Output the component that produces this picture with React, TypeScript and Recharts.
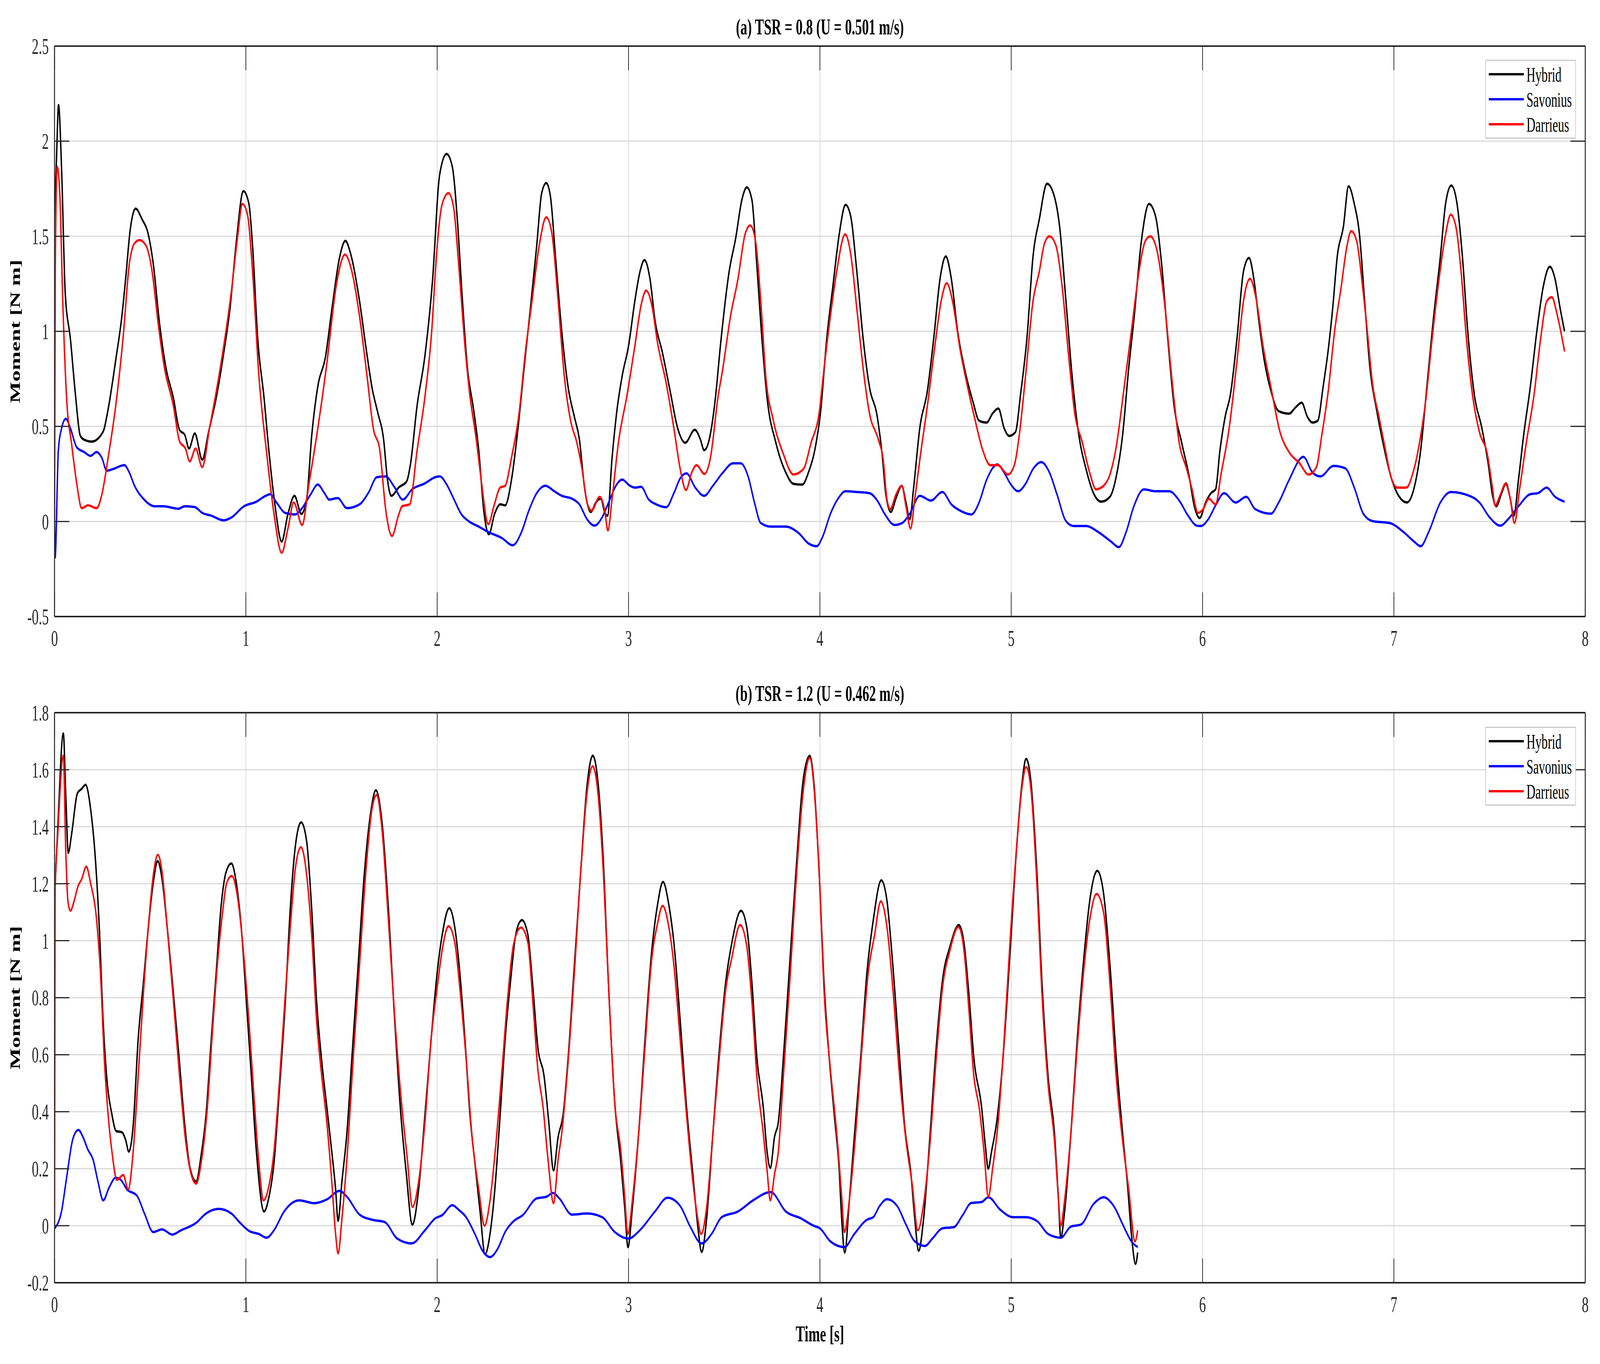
import { CartesianGrid, Legend, Line, LineChart, XAxis, YAxis } from "recharts";

const SERIF = '"Liberation Serif", "Times New Roman", serif';
const INK = "#262626";
const TICK_LEN = 62;
const PAGE_W = 6719;
const PAGE_H = 3491;

// axis ticks
const timeTicks = [0, 1, 2, 3, 4, 5, 6, 7, 8];
const momentTicksA = [-0.5, 0, 0.5, 1, 1.5, 2, 2.5];
const momentTicksB = [-0.2, 0, 0.2, 0.4, 0.6, 0.8, 1, 1.2, 1.4, 1.6, 1.8];

const seriesNames = ["Hybrid", "Savonius", "Darrieus"];
const seriesColors = ["#000000", "#0000ff", "#ff0000"];

// (a) TSR = 0.8 : [time s, moment N m]
const hybridA: [number, number][] = [
  [0, 1.6], [0.01, 1.9], [0.021, 2.19], [0.037, 1.85], [0.056, 1.2], [0.083, 0.96], [0.109, 0.67], [0.135, 0.45],
  [0.155, 0.43], [0.194, 0.42], [0.253, 0.47], [0.28, 0.59], [0.32, 0.85], [0.352, 1.08], [0.372, 1.28], [0.395, 1.53],
  [0.424, 1.645], [0.457, 1.59], [0.49, 1.51], [0.516, 1.355], [0.549, 1.04], [0.582, 0.81], [0.621, 0.65], [0.654, 0.48],
  [0.68, 0.457], [0.703, 0.384], [0.733, 0.463], [0.772, 0.325], [0.805, 0.47], [0.845, 0.65], [0.884, 0.885], [0.917, 1.12],
  [0.95, 1.47], [0.987, 1.737], [1.016, 1.67], [1.035, 1.45], [1.062, 0.96], [1.095, 0.65], [1.12, 0.375], [1.153, 0.08],
  [1.187, -0.106], [1.22, 0.04], [1.254, 0.135], [1.29, 0.04], [1.318, 0.12], [1.344, 0.45], [1.376, 0.71], [1.416, 0.865],
  [1.45, 1.12], [1.49, 1.39], [1.52, 1.476], [1.547, 1.41], [1.594, 1.16], [1.627, 0.92], [1.66, 0.7], [1.69, 0.57],
  [1.72, 0.43], [1.74, 0.22], [1.76, 0.135], [1.8, 0.18], [1.84, 0.21], [1.86, 0.3], [1.895, 0.61], [1.935, 0.865],
  [1.975, 1.26], [2.013, 1.825], [2.049, 1.933], [2.079, 1.865], [2.105, 1.59], [2.132, 1.16], [2.158, 0.806], [2.19, 0.59],
  [2.217, 0.375], [2.243, 0.06], [2.27, -0.067], [2.3, 0.04], [2.33, 0.09], [2.355, 0.085], [2.388, 0.218], [2.42, 0.47],
  [2.454, 0.806], [2.487, 1.12], [2.52, 1.45], [2.546, 1.727], [2.57, 1.78], [2.592, 1.708], [2.618, 1.394], [2.651, 1.0],
  [2.684, 0.708], [2.717, 0.55], [2.743, 0.433], [2.77, 0.178], [2.803, 0.05], [2.829, 0.1], [2.855, 0.12], [2.875, 0.05],
  [2.89, 0.03], [2.914, 0.335], [2.94, 0.59], [2.967, 0.767], [3.0, 0.923], [3.033, 1.16], [3.06, 1.315], [3.083, 1.375],
  [3.112, 1.276], [3.138, 1.06], [3.178, 0.884], [3.217, 0.688], [3.257, 0.49], [3.296, 0.414], [3.346, 0.482], [3.375, 0.433],
  [3.395, 0.375], [3.42, 0.424], [3.454, 0.65], [3.48, 0.923], [3.526, 1.316], [3.56, 1.49], [3.592, 1.69], [3.618, 1.757],
  [3.645, 1.69], [3.67, 1.355], [3.697, 0.963], [3.724, 0.65], [3.77, 0.414], [3.822, 0.257], [3.862, 0.198], [3.908, 0.194],
  [3.94, 0.257], [3.978, 0.4], [4.003, 0.57], [4.036, 0.963], [4.068, 1.237], [4.101, 1.51], [4.134, 1.665], [4.16, 1.61],
  [4.193, 1.316], [4.226, 0.963], [4.259, 0.708], [4.3, 0.55], [4.325, 0.355], [4.345, 0.14], [4.371, 0.05], [4.397, 0.12],
  [4.428, 0.188], [4.45, 0.1], [4.47, 0.012], [4.49, 0.178], [4.522, 0.49], [4.562, 0.688], [4.595, 0.963], [4.628, 1.276],
  [4.658, 1.394], [4.687, 1.276], [4.72, 1.0], [4.76, 0.786], [4.8, 0.63], [4.832, 0.53], [4.871, 0.52], [4.904, 0.57],
  [4.933, 0.594], [4.963, 0.49], [4.99, 0.45], [5.022, 0.47], [5.049, 0.67], [5.082, 0.963], [5.114, 1.394], [5.147, 1.59],
  [5.187, 1.776], [5.22, 1.727], [5.253, 1.55], [5.286, 1.16], [5.318, 0.767], [5.351, 0.47], [5.391, 0.276], [5.43, 0.149],
  [5.47, 0.104], [5.516, 0.13], [5.549, 0.237], [5.582, 0.453], [5.614, 0.806], [5.641, 1.06], [5.68, 1.473], [5.72, 1.67],
  [5.753, 1.61], [5.786, 1.355], [5.818, 0.963], [5.851, 0.61], [5.891, 0.414], [5.93, 0.237], [5.957, 0.08], [5.985, 0.018],
  [6.016, 0.1], [6.044, 0.149], [6.068, 0.169], [6.091, 0.375], [6.118, 0.55], [6.146, 0.67], [6.18, 0.963], [6.214, 1.316],
  [6.243, 1.386], [6.268, 1.276], [6.296, 1.04], [6.323, 0.845], [6.357, 0.688], [6.398, 0.58], [6.452, 0.567], [6.486, 0.6],
  [6.518, 0.625], [6.548, 0.55], [6.575, 0.52], [6.602, 0.53], [6.63, 0.708], [6.657, 0.904], [6.68, 1.12], [6.704, 1.394],
  [6.736, 1.55], [6.763, 1.763], [6.793, 1.67], [6.82, 1.51], [6.847, 1.16], [6.875, 0.806], [6.909, 0.59], [6.943, 0.414],
  [6.984, 0.237], [7.025, 0.135], [7.068, 0.1], [7.106, 0.178], [7.14, 0.375], [7.174, 0.727], [7.208, 1.08], [7.243, 1.394],
  [7.27, 1.67], [7.3, 1.767], [7.327, 1.69], [7.358, 1.394], [7.386, 1.0], [7.42, 0.67], [7.46, 0.49], [7.494, 0.296],
  [7.515, 0.14], [7.535, 0.08], [7.563, 0.149], [7.586, 0.2], [7.608, 0.12], [7.627, 0.031], [7.651, 0.218], [7.678, 0.453],
  [7.713, 0.708], [7.747, 1.0], [7.781, 1.237], [7.815, 1.34], [7.842, 1.276], [7.869, 1.12], [7.892, 1.0],
];

const savoniusA: [number, number][] = [
  [0, 0], [0.003, -0.19], [0.02, 0.375], [0.037, 0.49], [0.059, 0.54], [0.083, 0.49], [0.116, 0.39], [0.155, 0.365],
  [0.188, 0.345], [0.22, 0.365], [0.247, 0.335], [0.273, 0.267], [0.306, 0.276], [0.365, 0.296], [0.391, 0.257], [0.418, 0.188],
  [0.464, 0.12], [0.523, 0.08], [0.569, 0.08], [0.648, 0.067], [0.68, 0.08], [0.733, 0.076], [0.772, 0.045], [0.818, 0.031],
  [0.884, 0.006], [0.923, 0.02], [0.99, 0.08], [1.055, 0.104], [1.095, 0.13], [1.127, 0.143], [1.16, 0.1], [1.206, 0.045],
  [1.258, 0.037], [1.29, 0.065], [1.337, 0.14], [1.376, 0.194], [1.41, 0.15], [1.436, 0.115], [1.48, 0.123], [1.528, 0.07],
  [1.594, 0.09], [1.64, 0.15], [1.685, 0.233], [1.73, 0.237], [1.777, 0.18], [1.82, 0.115], [1.87, 0.17], [1.935, 0.2],
  [1.99, 0.233], [2.013, 0.237], [2.053, 0.188], [2.086, 0.12], [2.125, 0.04], [2.164, 0.002], [2.217, -0.027], [2.27, -0.057],
  [2.336, -0.086], [2.395, -0.125], [2.44, -0.057], [2.48, 0.06], [2.52, 0.149], [2.566, 0.188], [2.612, 0.159], [2.651, 0.135],
  [2.704, 0.12], [2.743, 0.09], [2.783, 0.012], [2.822, -0.022], [2.862, 0.022], [2.9, 0.11], [2.934, 0.188], [2.967, 0.22],
  [3.007, 0.188], [3.033, 0.178], [3.066, 0.182], [3.105, 0.116], [3.145, 0.09], [3.197, 0.075], [3.237, 0.149], [3.27, 0.227],
  [3.303, 0.253], [3.349, 0.178], [3.395, 0.135], [3.441, 0.188], [3.493, 0.257], [3.546, 0.306], [3.586, 0.306], [3.625, 0.237],
  [3.658, 0.1], [3.691, -0.008], [3.743, -0.027], [3.822, -0.027], [3.888, -0.06], [3.941, -0.116], [3.983, -0.13], [4.016, -0.076],
  [4.055, 0.04], [4.095, 0.12], [4.134, 0.159], [4.193, 0.155], [4.259, 0.149], [4.3, 0.11], [4.338, 0.041], [4.39, -0.018],
  [4.43, -0.008], [4.47, 0.041], [4.522, 0.135], [4.58, 0.11], [4.64, 0.155], [4.687, 0.09], [4.733, 0.057], [4.792, 0.037],
  [4.832, 0.1], [4.871, 0.218], [4.928, 0.3], [4.963, 0.257], [4.996, 0.198], [5.036, 0.159], [5.075, 0.198], [5.114, 0.276],
  [5.157, 0.312], [5.2, 0.257], [5.24, 0.14], [5.286, 0.002], [5.326, -0.024], [5.391, -0.024], [5.457, -0.057], [5.522, -0.106],
  [5.562, -0.135], [5.6, -0.057], [5.641, 0.08], [5.693, 0.169], [5.753, 0.159], [5.826, 0.159], [5.878, 0.11], [5.924, 0.031],
  [5.97, -0.022], [5.99, -0.024], [6.03, 0.012], [6.071, 0.09], [6.112, 0.149], [6.173, 0.1], [6.228, 0.13], [6.275, 0.065],
  [6.357, 0.041], [6.398, 0.1], [6.452, 0.218], [6.527, 0.34], [6.575, 0.257], [6.616, 0.237], [6.684, 0.292], [6.745, 0.28],
  [6.793, 0.178], [6.84, 0.041], [6.888, 0.002], [6.977, -0.008], [7.052, -0.057], [7.106, -0.106], [7.14, -0.13], [7.181, -0.057],
  [7.243, 0.1], [7.297, 0.155], [7.406, 0.13], [7.447, 0.1], [7.5, 0.022], [7.556, -0.022], [7.597, 0.012], [7.651, 0.08],
  [7.712, 0.143], [7.753, 0.149], [7.798, 0.178], [7.842, 0.13], [7.892, 0.104],
];

const darrieusA: [number, number][] = [
  [0, 0], [0.004, 1.35], [0.014, 1.865], [0.028, 1.71], [0.043, 1.16], [0.063, 0.65], [0.089, 0.41], [0.116, 0.2],
  [0.142, 0.07], [0.175, 0.085], [0.22, 0.07], [0.247, 0.14], [0.28, 0.335], [0.32, 0.61], [0.358, 0.963], [0.391, 1.355],
  [0.418, 1.463], [0.444, 1.48], [0.477, 1.453], [0.51, 1.315], [0.542, 1.04], [0.575, 0.806], [0.621, 0.61], [0.654, 0.42],
  [0.684, 0.384], [0.707, 0.316], [0.737, 0.384], [0.772, 0.286], [0.81, 0.49], [0.85, 0.71], [0.884, 0.92], [0.923, 1.2],
  [0.956, 1.49], [0.982, 1.67], [1.009, 1.61], [1.035, 1.315], [1.068, 0.767], [1.107, 0.375], [1.147, 0.04], [1.187, -0.165],
  [1.22, -0.037], [1.25, 0.1], [1.294, -0.018], [1.33, 0.2], [1.376, 0.49], [1.42, 0.806], [1.475, 1.257], [1.518, 1.404],
  [1.554, 1.315], [1.594, 1.08], [1.633, 0.767], [1.666, 0.49], [1.7, 0.375], [1.731, 0.06], [1.764, -0.076], [1.797, 0.03],
  [1.817, 0.08], [1.856, 0.09], [1.895, 0.375], [1.935, 0.65], [1.974, 1.04], [1.993, 1.355], [2.026, 1.67], [2.059, 1.727],
  [2.086, 1.65], [2.112, 1.355], [2.145, 0.923], [2.17, 0.67], [2.204, 0.433], [2.23, 0.218], [2.267, -0.014], [2.296, 0.08],
  [2.329, 0.178], [2.355, 0.188], [2.388, 0.335], [2.428, 0.57], [2.46, 0.884], [2.493, 1.14], [2.533, 1.45], [2.57, 1.6],
  [2.6, 1.51], [2.632, 1.16], [2.664, 0.767], [2.697, 0.53], [2.73, 0.414], [2.757, 0.276], [2.783, 0.1], [2.807, 0.057],
  [2.849, 0.13], [2.875, 0.06], [2.892, -0.047], [2.914, 0.12], [2.947, 0.414], [2.993, 0.67], [3.033, 0.923], [3.066, 1.14],
  [3.092, 1.214], [3.125, 1.12], [3.151, 0.943], [3.197, 0.727], [3.237, 0.49], [3.27, 0.276], [3.3, 0.165], [3.33, 0.257],
  [3.355, 0.296], [3.397, 0.25], [3.428, 0.335], [3.467, 0.65], [3.493, 0.806], [3.533, 1.08], [3.572, 1.276], [3.609, 1.51],
  [3.636, 1.557], [3.664, 1.473], [3.691, 1.16], [3.717, 0.767], [3.757, 0.53], [3.809, 0.355], [3.862, 0.247], [3.914, 0.276],
  [3.954, 0.414], [3.996, 0.57], [4.022, 0.806], [4.055, 1.08], [4.088, 1.316], [4.132, 1.51], [4.16, 1.414], [4.193, 1.12],
  [4.226, 0.806], [4.259, 0.57], [4.305, 0.433], [4.332, 0.316], [4.35, 0.12], [4.368, 0.065], [4.397, 0.14], [4.428, 0.188],
  [4.45, 0.08], [4.474, -0.037], [4.496, 0.12], [4.529, 0.375], [4.562, 0.61], [4.601, 0.923], [4.634, 1.16], [4.663, 1.253],
  [4.693, 1.16], [4.733, 0.904], [4.772, 0.708], [4.812, 0.53], [4.851, 0.375], [4.891, 0.296], [4.93, 0.296], [4.983, 0.247],
  [5.016, 0.296], [5.042, 0.453], [5.075, 0.767], [5.114, 1.16], [5.147, 1.316], [5.174, 1.463], [5.2, 1.5], [5.233, 1.453],
  [5.266, 1.237], [5.299, 0.884], [5.332, 0.57], [5.372, 0.414], [5.41, 0.257], [5.443, 0.169], [5.483, 0.188], [5.516, 0.247],
  [5.549, 0.394], [5.588, 0.688], [5.628, 1.0], [5.668, 1.316], [5.7, 1.473], [5.726, 1.5], [5.76, 1.433], [5.8, 1.16],
  [5.838, 0.767], [5.878, 0.414], [5.917, 0.276], [5.943, 0.178], [5.976, 0.045], [6.003, 0.065], [6.033, 0.12], [6.068, 0.09],
  [6.098, 0.257], [6.139, 0.49], [6.18, 0.845], [6.214, 1.16], [6.248, 1.276], [6.282, 1.16], [6.316, 0.923], [6.357, 0.708],
  [6.405, 0.47], [6.452, 0.365], [6.507, 0.306], [6.554, 0.247], [6.595, 0.286], [6.623, 0.453], [6.657, 0.688], [6.69, 1.0],
  [6.725, 1.237], [6.752, 1.433], [6.777, 1.527], [6.806, 1.473], [6.834, 1.257], [6.861, 1.0], [6.888, 0.727], [6.922, 0.55],
  [6.956, 0.375], [6.984, 0.237], [7.018, 0.178], [7.065, 0.178], [7.1, 0.257], [7.134, 0.414], [7.168, 0.65], [7.2, 0.963],
  [7.236, 1.276], [7.27, 1.51], [7.297, 1.614], [7.324, 1.55], [7.351, 1.316], [7.379, 0.963], [7.413, 0.65], [7.447, 0.47],
  [7.488, 0.355], [7.515, 0.178], [7.529, 0.084], [7.556, 0.14], [7.583, 0.198], [7.608, 0.12], [7.63, -0.008], [7.658, 0.178],
  [7.692, 0.414], [7.733, 0.67], [7.767, 0.963], [7.8, 1.16], [7.825, 1.18], [7.855, 1.08], [7.892, 0.894],
];

// (b) TSR = 1.2
const hybridB: [number, number][] = [
  [0, 1.15], [0.017, 1.4], [0.046, 1.727], [0.059, 1.505], [0.072, 1.308], [0.089, 1.373], [0.12, 1.518], [0.142, 1.533],
  [0.162, 1.547], [0.188, 1.465], [0.214, 1.282], [0.234, 1.046], [0.254, 0.718], [0.273, 0.52], [0.3, 0.39], [0.322, 0.332],
  [0.352, 0.328], [0.372, 0.3], [0.388, 0.26], [0.411, 0.351], [0.437, 0.653], [0.464, 0.85], [0.49, 1.046], [0.516, 1.203],
  [0.539, 1.279], [0.562, 1.216], [0.589, 1.046], [0.622, 0.81], [0.648, 0.613], [0.681, 0.351], [0.707, 0.207], [0.74, 0.155],
  [0.766, 0.246], [0.792, 0.39], [0.819, 0.653], [0.845, 0.889], [0.871, 1.124], [0.897, 1.242], [0.924, 1.271], [0.95, 1.203],
  [0.976, 1.046], [1.003, 0.784], [1.029, 0.522], [1.055, 0.26], [1.095, 0.05], [1.121, 0.102], [1.147, 0.22], [1.173, 0.456],
  [1.206, 0.784], [1.232, 1.111], [1.259, 1.334], [1.289, 1.415], [1.318, 1.347], [1.344, 1.111], [1.37, 0.784], [1.397, 0.574],
  [1.423, 0.417], [1.449, 0.26], [1.469, 0.128], [1.482, 0.017], [1.502, 0.155], [1.528, 0.325], [1.554, 0.587], [1.587, 0.915],
  [1.62, 1.242], [1.653, 1.452], [1.679, 1.528], [1.712, 1.413], [1.745, 1.111], [1.778, 0.718], [1.81, 0.39], [1.837, 0.194],
  [1.87, 0.004], [1.903, 0.128], [1.936, 0.39], [1.968, 0.653], [2.0, 0.889], [2.026, 1.02], [2.063, 1.114], [2.092, 1.046],
  [2.118, 0.889], [2.145, 0.653], [2.171, 0.39], [2.197, 0.22], [2.224, 0.05], [2.25, -0.1], [2.276, -0.029], [2.303, 0.142],
  [2.329, 0.39], [2.355, 0.653], [2.382, 0.85], [2.414, 1.033], [2.443, 1.072], [2.474, 1.02], [2.5, 0.836], [2.526, 0.626],
  [2.559, 0.522], [2.583, 0.364], [2.608, 0.194], [2.632, 0.312], [2.658, 0.39], [2.684, 0.587], [2.717, 0.915], [2.75, 1.242],
  [2.783, 1.544], [2.813, 1.649], [2.842, 1.544], [2.868, 1.282], [2.895, 0.85], [2.928, 0.43], [2.96, 0.22], [2.98, 0.063],
  [2.997, -0.075], [3.02, 0.063], [3.053, 0.325], [3.086, 0.653], [3.118, 0.941], [3.151, 1.124], [3.18, 1.206], [3.211, 1.124],
  [3.237, 0.993], [3.27, 0.718], [3.303, 0.417], [3.336, 0.181], [3.362, -0.003], [3.382, -0.092], [3.408, 0.024], [3.441, 0.325],
  [3.474, 0.613], [3.507, 0.85], [3.54, 0.993], [3.588, 1.105], [3.618, 1.046], [3.645, 0.85], [3.671, 0.587], [3.704, 0.417],
  [3.724, 0.26], [3.741, 0.203], [3.763, 0.312], [3.783, 0.364], [3.809, 0.587], [3.842, 0.915], [3.875, 1.242], [3.914, 1.57],
  [3.947, 1.649], [3.97, 1.544], [3.996, 1.242], [4.022, 0.85], [4.049, 0.587], [4.075, 0.39], [4.101, 0.194], [4.114, 0.024],
  [4.13, -0.094], [4.154, 0.089], [4.18, 0.312], [4.213, 0.587], [4.246, 0.889], [4.279, 1.072], [4.321, 1.212], [4.351, 1.138],
  [4.378, 0.941], [4.41, 0.653], [4.443, 0.351], [4.476, 0.181], [4.496, 0.024], [4.516, -0.088], [4.542, 0.024], [4.575, 0.312],
  [4.608, 0.626], [4.641, 0.862], [4.68, 0.98], [4.726, 1.055], [4.753, 0.993], [4.779, 0.81], [4.805, 0.587], [4.845, 0.417],
  [4.864, 0.286], [4.88, 0.2], [4.897, 0.26], [4.924, 0.364], [4.957, 0.587], [4.996, 0.98], [5.029, 1.334], [5.055, 1.544],
  [5.078, 1.638], [5.101, 1.57], [5.134, 1.242], [5.161, 0.85], [5.193, 0.522], [5.226, 0.325], [5.246, 0.102], [5.259, -0.042],
  [5.279, 0.05], [5.312, 0.325], [5.345, 0.653], [5.378, 0.928], [5.41, 1.138], [5.45, 1.245], [5.483, 1.164], [5.516, 0.915],
  [5.549, 0.587], [5.582, 0.325], [5.608, 0.142], [5.628, -0.029], [5.65, -0.134], [5.661, -0.094],
];

const savoniusB: [number, number][] = [
  [0, -0.01], [0.037, 0.052], [0.063, 0.168], [0.096, 0.305], [0.125, 0.336], [0.148, 0.312], [0.175, 0.266], [0.201, 0.233],
  [0.227, 0.155], [0.254, 0.089], [0.286, 0.135], [0.319, 0.168], [0.346, 0.161], [0.378, 0.128], [0.431, 0.105], [0.47, 0.043],
  [0.516, -0.022], [0.562, -0.013], [0.615, -0.031], [0.661, -0.016], [0.74, 0.01], [0.792, 0.043], [0.858, 0.059], [0.924, 0.043],
  [0.97, 0.01], [1.016, -0.018], [1.068, -0.029], [1.108, -0.042], [1.147, -0.016], [1.2, 0.05], [1.279, 0.089], [1.357, 0.079],
  [1.423, 0.092], [1.489, 0.122], [1.528, 0.102], [1.594, 0.039], [1.66, 0.021], [1.725, 0.013], [1.791, -0.045], [1.867, -0.062],
  [1.936, -0.016], [1.99, 0.026], [2.026, 0.037], [2.079, 0.072], [2.112, 0.056], [2.151, 0.03], [2.197, -0.029], [2.237, -0.088],
  [2.276, -0.11], [2.316, -0.081], [2.355, -0.022], [2.401, 0.017], [2.447, 0.037], [2.52, 0.096], [2.572, 0.102], [2.605, 0.115],
  [2.638, 0.096], [2.704, 0.039], [2.783, 0.043], [2.862, 0.03], [2.928, -0.022], [3.0, -0.045], [3.059, -0.016], [3.138, 0.05],
  [3.204, 0.098], [3.27, 0.069], [3.322, -0.003], [3.382, -0.062], [3.434, -0.029], [3.487, 0.03], [3.572, 0.05], [3.651, 0.089],
  [3.743, 0.118], [3.822, 0.05], [3.9, 0.026], [3.967, 0.0], [4.0, -0.009], [4.055, -0.055], [4.128, -0.075], [4.18, -0.029],
  [4.246, 0.021], [4.279, 0.03], [4.312, 0.069], [4.351, 0.093], [4.404, 0.069], [4.45, 0.004], [4.496, -0.055], [4.549, -0.071],
  [4.588, -0.045], [4.641, -0.009], [4.7, -0.005], [4.746, 0.037], [4.792, 0.08], [4.845, 0.083], [4.88, 0.1], [4.943, 0.056],
  [5.009, 0.03], [5.075, 0.03], [5.134, 0.017], [5.193, -0.029], [5.259, -0.042], [5.312, -0.003], [5.364, 0.004], [5.43, 0.076],
  [5.483, 0.1], [5.536, 0.069], [5.588, -0.003], [5.628, -0.055], [5.661, -0.075],
];

const darrieusB: [number, number][] = [
  [0, 0], [0.003, 1.18], [0.017, 1.373], [0.046, 1.649], [0.059, 1.308], [0.07, 1.138], [0.083, 1.105], [0.102, 1.138],
  [0.122, 1.19], [0.142, 1.216], [0.166, 1.26], [0.188, 1.203], [0.22, 1.072], [0.24, 0.889], [0.26, 0.587], [0.28, 0.39],
  [0.3, 0.26], [0.326, 0.161], [0.359, 0.178], [0.385, 0.128], [0.411, 0.26], [0.437, 0.522], [0.464, 0.81], [0.49, 1.046],
  [0.516, 1.229], [0.54, 1.301], [0.562, 1.242], [0.589, 1.046], [0.622, 0.784], [0.654, 0.522], [0.685, 0.299], [0.714, 0.181],
  [0.74, 0.148], [0.769, 0.233], [0.799, 0.417], [0.825, 0.679], [0.851, 0.915], [0.878, 1.098], [0.9, 1.203], [0.926, 1.227],
  [0.957, 1.151], [0.983, 0.993], [1.016, 0.718], [1.042, 0.456], [1.068, 0.22], [1.092, 0.089], [1.121, 0.142], [1.147, 0.26],
  [1.173, 0.482], [1.206, 0.81], [1.232, 1.046], [1.259, 1.256], [1.288, 1.328], [1.318, 1.229], [1.344, 1.02], [1.37, 0.718],
  [1.397, 0.522], [1.423, 0.364], [1.449, 0.155], [1.469, -0.029], [1.482, -0.097], [1.502, 0.024], [1.528, 0.233], [1.561, 0.587],
  [1.594, 0.915], [1.627, 1.242], [1.657, 1.452], [1.683, 1.511], [1.712, 1.387], [1.745, 1.072], [1.778, 0.731], [1.81, 0.456],
  [1.844, 0.233], [1.87, 0.066], [1.903, 0.155], [1.936, 0.364], [1.968, 0.653], [2.0, 0.836], [2.026, 0.967], [2.059, 1.051],
  [2.092, 0.993], [2.118, 0.836], [2.151, 0.587], [2.184, 0.299], [2.217, 0.128], [2.247, 0.0], [2.276, 0.089], [2.303, 0.26],
  [2.336, 0.522], [2.368, 0.797], [2.401, 0.993], [2.438, 1.046], [2.474, 0.993], [2.5, 0.784], [2.526, 0.548], [2.553, 0.417],
  [2.579, 0.233], [2.608, 0.079], [2.632, 0.233], [2.651, 0.325], [2.678, 0.522], [2.717, 0.889], [2.75, 1.242], [2.783, 1.518],
  [2.812, 1.612], [2.842, 1.505], [2.868, 1.242], [2.895, 0.85], [2.928, 0.43], [2.96, 0.26], [2.98, 0.102], [2.996, -0.029],
  [3.02, 0.089], [3.053, 0.325], [3.086, 0.626], [3.118, 0.915], [3.151, 1.059], [3.178, 1.122], [3.211, 1.046], [3.237, 0.915],
  [3.27, 0.653], [3.303, 0.39], [3.336, 0.155], [3.362, 0.024], [3.379, -0.029], [3.408, 0.063], [3.441, 0.325], [3.474, 0.587],
  [3.507, 0.823], [3.54, 0.941], [3.583, 1.055], [3.618, 0.98], [3.645, 0.784], [3.671, 0.522], [3.704, 0.325], [3.724, 0.194],
  [3.741, 0.089], [3.763, 0.181], [3.783, 0.26], [3.809, 0.522], [3.842, 0.85], [3.875, 1.203], [3.914, 1.531], [3.947, 1.642],
  [3.97, 1.531], [3.996, 1.242], [4.022, 0.823], [4.055, 0.548], [4.088, 0.325], [4.114, 0.102], [4.128, -0.022], [4.154, 0.089],
  [4.187, 0.325], [4.22, 0.626], [4.253, 0.889], [4.286, 1.02], [4.318, 1.138], [4.351, 1.046], [4.384, 0.81], [4.417, 0.522],
  [4.45, 0.299], [4.483, 0.142], [4.512, -0.016], [4.542, 0.076], [4.575, 0.286], [4.608, 0.587], [4.641, 0.836], [4.68, 0.967],
  [4.724, 1.048], [4.753, 0.967], [4.779, 0.758], [4.805, 0.522], [4.832, 0.417], [4.858, 0.26], [4.88, 0.102], [4.904, 0.207],
  [4.93, 0.351], [4.963, 0.653], [4.996, 1.02], [5.029, 1.334], [5.055, 1.531], [5.078, 1.609], [5.101, 1.544], [5.134, 1.203],
  [5.161, 0.81], [5.193, 0.495], [5.226, 0.299], [5.246, 0.102], [5.259, 0.0], [5.279, 0.089], [5.312, 0.325], [5.345, 0.626],
  [5.378, 0.889], [5.41, 1.072], [5.446, 1.164], [5.483, 1.098], [5.516, 0.85], [5.549, 0.522], [5.582, 0.299], [5.614, 0.128],
  [5.647, -0.055], [5.661, -0.016],
];

const toRows = (pts: [number, number][]) => pts.map(([t, m]) => ({ t, m }));

const BottomTick = ({ x, y, payload }: any) => (
  <g>
    <line x1={x} x2={x} y1={y} y2={y - TICK_LEN} stroke={INK} strokeWidth={3} />
    <text x={x} y={y + 55} dy="0.35em" textAnchor="middle" fontSize={57} fontFamily={SERIF} fill={INK}>
      {payload.value}
    </text>
  </g>
);

const LeftTick = ({ x, y, payload }: any) => (
  <g>
    <line x1={x} x2={x + TICK_LEN} y1={y} y2={y} stroke={INK} strokeWidth={3} />
    <text x={x - 24} y={y} dy="0.35em" textAnchor="end" fontSize={57} fontFamily={SERIF} fill={INK}>
      {String(payload.value)}
    </text>
  </g>
);

const TopTick = ({ x, y }: any) => (
  <line x1={x} x2={x} y1={y} y2={y + TICK_LEN} stroke={INK} strokeWidth={3} />
);

const RightTick = ({ x, y }: any) => (
  <line x1={x} x2={x - TICK_LEN} y1={y} y2={y} stroke={INK} strokeWidth={3} />
);

function BoxLegend({ payload }: any) {
  // keep the plotting order (Hybrid, Savonius, Darrieus)
  const items = [...(payload ?? [])].sort(
    (a: any, b: any) => seriesNames.indexOf(a.value) - seriesNames.indexOf(b.value)
  );
  return (
    <svg width={381} height={202} style={{ display: "block" }}>
      <rect x={1.5} y={1.5} width={378} height={199} fill="#ffffff" stroke="#c8c8c8" strokeWidth={3} />
      {items.map((item: any, i: number) => {
        const cy = 37 + i * 64;
        return (
          <g key={item.value}>
            <line x1={15} x2={162} y1={cy} y2={cy} stroke={item.color} strokeWidth={6} />
            <text x={173} y={cy + 19} fontSize={52} fontFamily={SERIF} fill="#000000">
              {item.value}
            </text>
          </g>
        );
      })}
    </svg>
  );
}

const momentLabel = (props: any) => {
  const vb = props.viewBox;
  const cx = 64;
  const cy = vb.y + vb.height / 2;
  return (
    <text
      x={cx}
      y={cy}
      dy="0.33em"
      transform={`rotate(-90, ${cx}, ${cy})`}
      textAnchor="middle"
      fontSize={58}
      fontWeight="bold"
      fontFamily={SERIF}
      fill="#000000"
    >
      Moment [N m]
    </text>
  );
};

function Panel({
  title,
  top,
  height,
  marginTop,
  axisHeight,
  yTicks,
  legendTop,
  hybrid,
  savonius,
  darrieus,
  showTimeLabel,
}: {
  title: string;
  top: number;
  height: number;
  marginTop: number;
  axisHeight: number;
  yTicks: number[];
  legendTop: number;
  hybrid: [number, number][];
  savonius: [number, number][];
  darrieus: [number, number][];
  showTimeLabel: boolean;
}) {
  const yDomain: [number, number] = [yTicks[0], yTicks[yTicks.length - 1]];
  const series = [hybrid, savonius, darrieus];
  return (
    <div style={{ position: "absolute", left: 0, top, width: PAGE_W, height }}>
      <LineChart width={PAGE_W} height={height} margin={{ top: marginTop - 1, right: 61, bottom: 0, left: 0 }}>
        <CartesianGrid stroke="#d9d9d9" strokeWidth={3} />
        <XAxis
          dataKey="t"
          type="number"
          domain={[0, 8]}
          ticks={timeTicks}
          interval={0}
          allowDataOverflow
          height={axisHeight}
          tickSize={0}
          tickMargin={0}
          tickLine={false}
          tick={BottomTick}
          axisLine={{ stroke: INK, strokeWidth: 4 }}
          label={
            showTimeLabel
              ? {
                  value: "Time [s]",
                  position: "insideTop",
                  offset: 109,
                  fontSize: 58,
                  fontWeight: "bold",
                  fontFamily: SERIF,
                  fill: "#000000",
                }
              : undefined
          }
        />
        <XAxis
          xAxisId="top"
          orientation="top"
          dataKey="t"
          type="number"
          domain={[0, 8]}
          ticks={timeTicks}
          interval={0}
          allowDataOverflow
          height={1}
          tickSize={0}
          tickMargin={0}
          tickLine={false}
          tick={TopTick}
          axisLine={{ stroke: INK, strokeWidth: 4 }}
          label={(p: any) => (
            <text
              x={p.viewBox.x + p.viewBox.width / 2}
              y={p.viewBox.y - 29}
              textAnchor="middle"
              fontSize={57}
              fontWeight="bold"
              fontFamily={SERIF}
              fill="#000000"
            >
              {title}
            </text>
          )}
        />
        <YAxis
          type="number"
          domain={yDomain}
          ticks={yTicks}
          interval={0}
          allowDataOverflow
          width={229}
          tickSize={0}
          tickMargin={0}
          tickLine={false}
          tick={LeftTick}
          axisLine={{ stroke: INK, strokeWidth: 4 }}
          label={momentLabel}
        />
        <YAxis
          yAxisId="right"
          orientation="right"
          type="number"
          domain={yDomain}
          ticks={yTicks}
          interval={0}
          allowDataOverflow
          width={1}
          tickSize={0}
          tickMargin={0}
          tickLine={false}
          tick={RightTick}
          axisLine={{ stroke: INK, strokeWidth: 4 }}
        />
        {series.map((pts, i) => (
          <Line
            key={seriesNames[i]}
            data={toRows(pts)}
            dataKey="m"
            name={seriesNames[i]}
            xAxisId={i === 0 ? "top" : 0}
            yAxisId={i === 0 ? "right" : 0}
            type="monotone"
            stroke={seriesColors[i]}
            strokeWidth={6}
            dot={false}
            activeDot={false}
            isAnimationActive={false}
          />
        ))}
        <Legend
          layout="vertical"
          align="center"
          verticalAlign="middle"
          wrapperStyle={{ left: 6237, top: legendTop, width: 381, height: 202 }}
          content={BoxLegend}
        />
      </LineChart>
    </div>
  );
}

export default function App() {
  // fit the 6719x3491 figure into whatever viewport the browser really gives
  const viewW =
    typeof document !== "undefined" && document.documentElement.clientWidth
      ? document.documentElement.clientWidth
      : PAGE_W;
  const viewH = typeof window !== "undefined" && window.innerHeight ? window.innerHeight : PAGE_H;
  const sx = Math.min(1, viewW / PAGE_W);
  const sy = Math.min(1, viewH / PAGE_H);
  return (
    <div
      style={{
        position: "absolute",
        left: 0,
        top: 0,
        width: PAGE_W * sx,
        height: PAGE_H * sy,
        overflow: "hidden",
        background: "#ffffff",
      }}
    >
      <div
        style={{
          position: "relative",
          width: PAGE_W,
          height: PAGE_H,
          transform: `scale(${sx}, ${sy})`,
          transformOrigin: "0 0",
          fontFamily: SERIF,
        }}
      >
        <Panel
          title="(a) TSR = 0.8 (U = 0.501 m/s)"
          top={0}
          height={1700}
          marginTop={118}
          axisHeight={122}
          yTicks={momentTicksA}
          legendTop={153}
          hybrid={hybridA}
          savonius={savoniusA}
          darrieus={darrieusA}
          showTimeLabel={false}
        />
        <Panel
          title="(b) TSR = 1.2 (U = 0.462 m/s)"
          top={1700}
          height={1791}
          marginTop={124}
          axisHeight={208}
          yTicks={momentTicksB}
          legendTop={160}
          hybrid={hybridB}
          savonius={savoniusB}
          darrieus={darrieusB}
          showTimeLabel={true}
        />
      </div>
    </div>
  );
}
